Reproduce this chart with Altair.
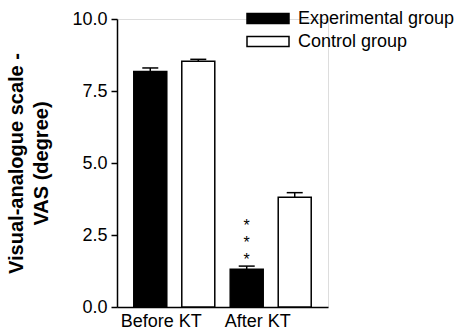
import altair as alt
import pandas as pd

groups = ["Before KT", "After KT"]
series = ["Experimental group", "Control group"]
exp_mean = [8.18, 1.31]
exp_sem = [0.12, 0.11]
ctl_mean = [8.53, 3.81]
ctl_sem = [0.07, 0.16]
y_ticks = [0, 2.5, 5, 7.5, 10]
sig_group = "After KT"
sig_series = "Experimental group"
sig_text = "*\n*\n*"

rows = []
for i, g in enumerate(groups):
    rows.append(dict(group=g, series=series[0], mean=exp_mean[i], sem=exp_sem[i]))
    rows.append(dict(group=g, series=series[1], mean=ctl_mean[i], sem=ctl_sem[i]))
df = pd.DataFrame(rows)
df["upper"] = df["mean"] + df["sem"]

sig = df[(df.group == sig_group) & (df.series == sig_series)].copy()
sig["label"] = sig_text
glab = pd.DataFrame({"group": groups})

FONT = "Liberation Sans"

x_enc = alt.X(
    "group:N", sort=groups,
    scale=alt.Scale(paddingInner=0.16, paddingOuter=0.174),
    axis=alt.Axis(title=None, ticks=False, labels=False,
                  domainColor="black", domainWidth=1.5),
)
xo_enc = alt.XOffset("series:N", sort=series,
                     scale=alt.Scale(paddingInner=0.3125, paddingOuter=0))
y_scale = alt.Scale(domain=[0, 10], nice=False)

bars = alt.Chart(df).mark_bar(stroke="black", strokeWidth=1.5).encode(
    x=x_enc, xOffset=xo_enc,
    y=alt.Y("mean:Q", scale=y_scale,
            axis=alt.Axis(values=y_ticks, format=".1f", grid=False,
                          title=["Visual-analogue scale -", "VAS (degree)"],
                          titleFont=FONT, titleFontSize=20, titleFontWeight="bold",
                          titleColor="black", titleAngle=270, titleBaseline="top",
                          titleAlign="center", titleX=-111, titleY=144,
                          titleLineHeight=25,
                          labelFont=FONT, labelFontSize=18, labelColor="black",
                          labelPadding=4, tickSize=6, tickWidth=1.5, tickColor="black",
                          domainColor="black", domainWidth=1.5)),
    fill=alt.Fill("series:N", sort=series,
                  scale=alt.Scale(domain=series, range=["black", "white"]),
                  legend=alt.Legend(title=None, orient="none", legendX=129, legendY=-12,
                                    symbolType="M-1,-0.48H3V0.48H-1Z", symbolSize=441,
                                    symbolStrokeColor="black", symbolStrokeWidth=1.5,
                                    symbolOpacity=1,
                                    labelFont=FONT, labelFontSize=18, labelColor="black",
                                    labelOffset=29, rowPadding=2)),
)

err = alt.Chart(df).mark_rule(color="black", strokeWidth=1.5).encode(
    x=x_enc, xOffset=xo_enc,
    y=alt.Y("mean:Q", scale=y_scale), y2="upper:Q",
)
cap = alt.Chart(df).mark_tick(color="black", size=16, thickness=1.5, opacity=1).encode(
    x=x_enc, xOffset=xo_enc,
    y=alt.Y("upper:Q", scale=y_scale),
)
stars = alt.Chart(sig).mark_text(lineBreak="\n", baseline="top", fontSize=16,
                                 lineHeight=17, dy=-48, font=FONT, color="black").encode(
    x=x_enc, xOffset=xo_enc,
    y=alt.Y("upper:Q", scale=y_scale),
    text="label:N",
)
xlabels = alt.Chart(glab).mark_text(fontSize=18, font=FONT, color="black",
                                    baseline="middle", dx=-13).encode(
    x=x_enc,
    y=alt.value(303),
    text="group:N",
)

chart = alt.layer(bars, err, cap, stars, xlabels).properties(
    width=211, height=288,
    autosize=alt.AutoSizeParams(type="none"),
    padding={"left": 117, "top": 19, "right": 141, "bottom": 28},
).configure_view(stroke=None).configure(background="white")

chart.save("out.html", embed_options={"renderer": "svg", "actions": False})
